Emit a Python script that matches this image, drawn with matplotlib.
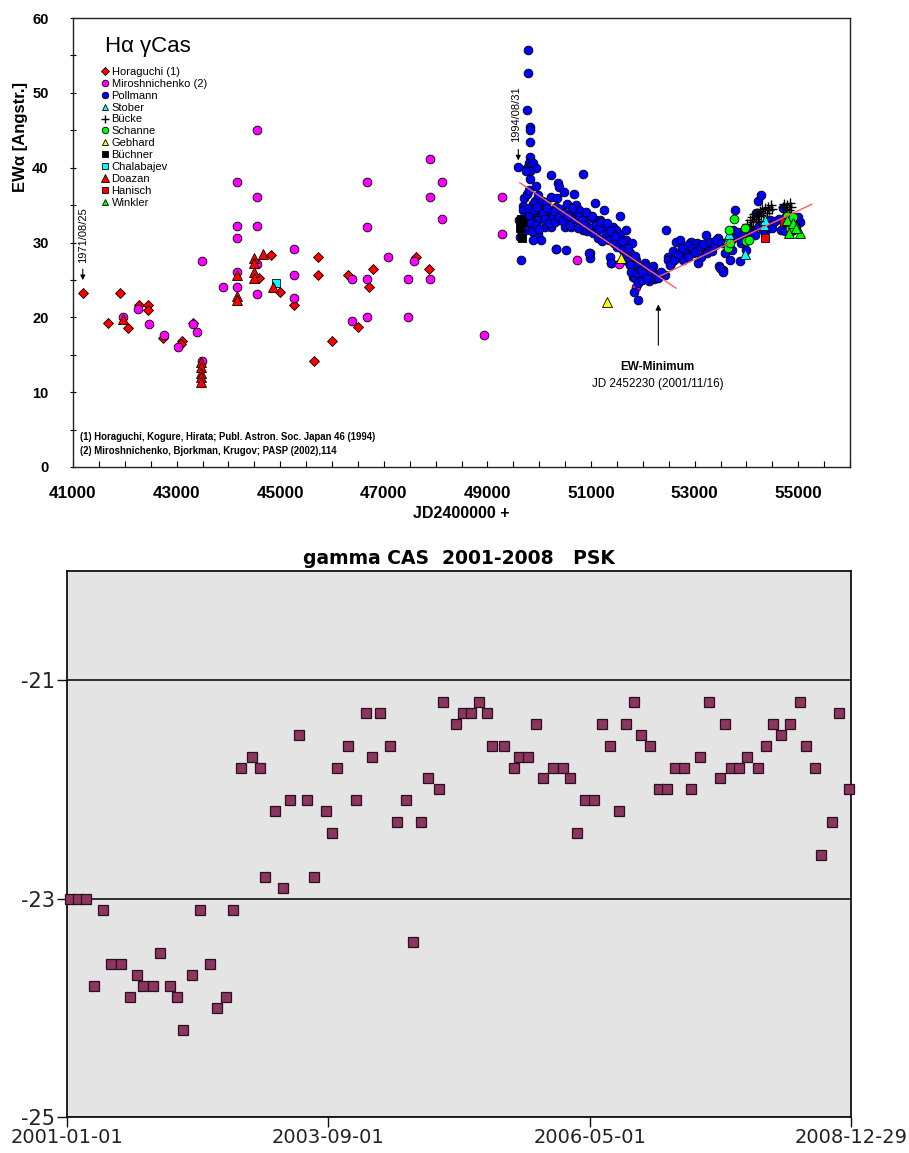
import numpy as np
import matplotlib
matplotlib.use("Agg")
import matplotlib.pyplot as plt
import matplotlib.dates as mdates
from matplotlib.ticker import MultipleLocator, FixedLocator

plt.rcParams['font.family'] = ['Liberation Sans', 'DejaVu Sans']

# ---------------- top chart data (JD-2400000, EW in Angstr.) ----------------
hora_jd = [41189, 41670, 41913, 42055, 42280, 42440, 42440, 42730, 43110, 43080, 43310,
           44595, 44815, 44995, 45265, 45735, 45735, 45655, 46300, 46790, 46705, 46510,
           46000, 47630, 47875]
hora_ew = [23.2, 19.25, 23.2, 18.6, 21.65, 21.65, 21.0, 17.3, 16.85, 16.5, 19.3,
           25.3, 28.3, 23.35, 21.65, 28.1, 25.6, 14.2, 25.7, 26.4, 24.0, 18.7,
           16.8, 28.1, 26.4]

miro_jd = [41970, 42255, 42465, 42760, 43020, 43320, 43385, 43495, 43495, 43905,
           44165, 44165, 44165, 44165, 44165, 44550, 44550, 44550, 44550, 44550,
           45265, 45265, 45265, 46680, 46680, 46680, 46680, 46395, 46395, 47080,
           47460, 47460, 47585, 47885, 47885, 47885, 48125, 48125, 48930, 49285,
           49285, 50330, 50730, 51540, 51860, 52215]
miro_ew = [20.0, 21.1, 19.1, 17.6, 16.0, 19.1, 18.1, 27.5, 14.1, 24.0,
           38.1, 32.2, 30.6, 26.1, 24.0, 45.1, 36.1, 32.2, 27.1, 23.1,
           29.1, 25.6, 22.6, 38.1, 32.1, 25.1, 20.0, 25.1, 19.5, 28.0,
           25.1, 20.0, 27.5, 41.1, 36.1, 25.1, 38.1, 33.1, 17.6, 36.1,
           31.1, 29.1, 27.6, 27.1, 24.1, 25.1]

poll_jd = [49596, 49785, 49785, 49772, 49817, 49817, 49817, 49817, 49804, 49772, 49850,
           49882, 49946, 49817, 49753, 49817, 49946, 49689, 49689, 49882, 49914, 49978,
           49612, 49753, 49817, 49882, 49946, 50010, 50042, 49914, 49978, 49753, 49817,
           49914, 49978, 50042, 49882, 49657, 49624, 49657, 50049, 50139, 50222, 50345,
           50222, 50364, 50383, 50473, 50666, 50216, 50332, 50428, 50107, 50235, 50538,
           50538, 50589, 50653, 50718, 50769, 50332, 50525, 50428, 50493, 50621, 50718,
           50795, 50846, 50846, 50943, 51071, 51071, 50975, 50975, 51168, 51251, 51264,
           51296, 51374, 51393, 51425, 51489, 51566, 51554, 51682, 51682, 51798, 51747,
           51875, 51875, 51811, 51940, 52036, 52068, 52120, 52197, 52197, 52422, 52454,
           52486, 52551, 52647, 52711, 52743, 52840, 52904, 52969, 53065, 53226, 53291,
           53355, 53451, 53470, 53548, 53580, 53644, 53740, 53773, 53869, 53997, 54062,
           54126, 54190, 54223, 54287, 54383, 54448, 54673, 54705, 54769, 54898, 55026,
           51830, 51907, 52133, 52229, 51811, 51850, 51380, 50955,
           52486, 52583, 52808, 52937, 53130, 53194, 53483, 53548, 53676, 53901, 54094,
           54158, 54319, 54737, 54866, 54962,
           50070, 50120, 50160, 50190, 50260, 50290, 50300, 50390, 50410, 50460, 50480,
           50560, 50600, 50630, 50690, 50740, 50760, 50820, 50870, 50900, 50920, 50990,
           51010, 51040, 51100, 51130, 51150, 51200, 51220, 51310, 51340, 51360, 51450,
           51470, 51510, 51600, 51620, 51650, 51700, 51720, 51760, 51780, 51840, 51880,
           51900, 51960, 51990, 52010, 52090, 52150, 52260, 52300, 52350, 52520, 52600,
           52680, 52760, 52780, 52870, 52880, 52950, 53000, 53040, 53100, 53160, 53230,
           53300, 53330, 53400, 53420, 53520, 53600, 53700, 53720, 53800, 53840, 53920,
           53950, 54030, 54250, 54420, 54500, 54560, 54620, 54800, 54830, 54930, 55000,
           49700, 49730, 49780, 49800, 49840, 49860, 49900, 49930, 49960, 49990, 49700,
           49760, 49800]
poll_ew = [40.1, 55.7, 52.6, 47.7, 45.4, 45.0, 43.4, 41.4, 40.6, 39.9, 40.3,
           40.6, 40.0, 39.5, 39.5, 38.5, 37.6, 34.9, 34.3, 35.2, 35.5, 36.4,
           33.0, 33.0, 33.9, 33.9, 33.9, 34.4, 33.5, 33.0, 33.0, 31.7, 32.1,
           31.0, 31.2, 30.4, 30.3, 31.7, 30.8, 27.7, 35.5, 35.4, 36.1, 36.0,
           39.0, 38.0, 37.4, 36.7, 36.5, 33.9, 34.8, 33.9, 32.1, 32.1, 35.2,
           33.0, 32.8, 33.9, 35.0, 34.4, 29.1, 29.0, 33.0, 32.1, 32.1, 33.5,
           32.5, 39.2, 31.7, 33.2, 35.3, 33.0, 28.6, 27.9, 33.0, 34.4, 32.1,
           31.2, 28.1, 27.2, 32.1, 31.7, 33.5, 31.2, 31.7, 30.3, 29.9, 28.6,
           27.7, 26.8, 26.3, 25.4, 27.2, 26.8, 24.8, 26.8, 25.9, 25.7, 31.7,
           28.1, 27.2, 30.1, 30.4, 28.1, 29.0, 29.9, 28.6, 27.2, 31.0, 29.5,
           29.9, 30.6, 26.8, 26.3, 28.6, 29.5, 31.7, 34.4, 27.5, 29.0, 31.0,
           31.7, 33.9, 35.5, 36.4, 31.7, 33.0, 31.7, 34.6, 33.5, 31.7, 32.8,
           23.4, 22.3, 25.4, 25.2, 25.4, 25.2, 27.2, 28.6,
           27.7, 28.8, 29.0, 30.1, 28.1, 29.0, 26.6, 26.1, 27.7, 29.9, 31.5,
           31.0, 31.7, 31.5, 31.5, 32.1,
           34.0, 33.2, 34.6, 32.6, 33.5, 34.2, 32.8, 33.4, 34.5, 32.9, 34.0,
           33.6, 32.4, 34.6, 33.1, 32.0, 33.6, 33.0, 32.3, 34.1, 31.6, 32.0,
           33.6, 31.3, 32.4, 30.6, 31.8, 32.8, 30.2, 32.6, 30.4, 31.6, 30.0,
           30.9, 29.4, 30.2, 29.0, 28.1, 27.5, 29.2, 27.0, 26.0, 28.2, 25.9,
           24.6, 26.3, 25.0, 25.9, 25.3, 26.2, 25.7, 25.2, 26.0, 27.0, 27.6,
           28.5, 29.3, 27.7, 28.0, 29.6, 29.3, 28.7, 30.0, 29.4, 29.8, 28.6,
           30.1, 28.9, 29.6, 30.3, 30.0, 29.9, 30.3, 29.0, 30.8, 31.4, 30.4,
           31.6, 31.8, 32.2, 32.4, 32.0, 32.9, 33.2, 32.4, 33.6, 32.9, 33.4,
           33.4, 32.2, 33.6, 34.6, 32.6, 31.6, 34.4, 32.4, 34.8, 31.8, 36.0,
           36.5, 37.0]

stober_jd = [53640, 53660, 53980, 54340, 54360]
stober_ew = [30.5, 31.2, 28.4, 32.4, 33.0]

bucke_jd = [54020, 54060, 54100, 54120, 54150, 54180, 54200, 54230, 54260, 54290, 54310,
            54330, 54360, 54390, 54410, 54440, 54470, 54500, 54700, 54730, 54760, 54790,
            54820, 54850, 54870, 54080, 54250]
bucke_ew = [32.5, 33.0, 33.4, 32.8, 33.8, 33.2, 34.0, 33.5, 34.2, 33.7, 34.5,
            33.9, 34.6, 34.0, 34.8, 34.3, 35.0, 34.5, 34.8, 35.2, 34.5, 35.0,
            34.3, 35.3, 34.7, 32.2, 32.9]

schanne_jd = [53650, 53670, 53760, 53690, 53980, 54000, 54050, 54780, 54900, 54920, 54840]
schanne_ew = [29.3, 31.7, 33.2, 30.0, 32.0, 30.2, 30.4, 33.5, 33.4, 32.2, 32.0]

gebhard_jd = [51573, 51300]
gebhard_ew = [27.9, 22.1]

buechner_jd = [49620, 49650, 49690, 49660, 49630]
buechner_ew = [32.9, 33.1, 32.8, 30.6, 32.0]

chala_jd = [44915]
chala_ew = [24.6]

doazan_jd = [41965, 43475, 43475, 43475, 43475, 43475, 44165, 44165, 44165,
             44500, 44500, 44500, 44500, 44670, 44865]
doazan_ew = [19.8, 14.0, 13.3, 12.6, 12.0, 11.4, 25.7, 22.8, 22.3,
             27.9, 27.2, 26.0, 25.3, 28.4, 24.0]

hanisch_jd = [54350, 54720]
hanisch_ew = [30.6, 32.7]

winkler_jd = [54780, 54830, 54900, 55040, 54950]
winkler_ew = [33.0, 31.3, 32.6, 31.3, 32.0]

trend1_jd = [49625, 52640]
trend1_ew = [38.0, 23.9]
trend2_jd = [52326, 55260]
trend2_ew = [25.5, 35.1]

jd_ticks = [41000, 43000, 45000, 47000, 49000, 51000, 53000, 55000]

# ---------------- bottom chart data ----------------
psk_days = [11, 40, 70, 100, 133, 164, 200, 236, 262, 284, 320, 346, 382, 408, 433, 465,
            496, 534, 559, 592, 618, 649, 689, 717, 738, 776, 805, 831, 864, 894, 919,
            963, 988, 1004, 1045, 1077, 1114, 1135, 1167, 1204, 1230, 1261, 1287, 1318,
            1344, 1386, 1401, 1447, 1473, 1503, 1533, 1565, 1584, 1626, 1663, 1684, 1715,
            1746, 1773, 1811, 1846, 1873, 1900, 1930, 1961, 1992, 2023, 2055, 2081, 2112,
            2138, 2170, 2203, 2233, 2265, 2296, 2322, 2357, 2389, 2431, 2451, 2472, 2503,
            2531, 2573, 2604, 2629, 2660, 2692, 2728, 2750, 2786, 2807, 2849, 2875, 2913]
psk_ew = [-23.0, -23.0, -23.0, -23.8, -23.1, -23.6, -23.6, -23.9, -23.7, -23.8, -23.8,
          -23.5, -23.8, -23.9, -24.2, -23.7, -23.1, -23.6, -24.0, -23.9, -23.1, -21.8,
          -21.7, -21.8, -22.8, -22.2, -22.9, -22.1, -21.5, -22.1, -22.8, -22.2, -22.4,
          -21.8, -21.6, -22.1, -21.3, -21.7, -21.3, -21.6, -22.3, -22.1, -23.4, -22.3,
          -21.9, -22.0, -21.2, -21.4, -21.3, -21.3, -21.2, -21.3, -21.6, -21.6, -21.8,
          -21.7, -21.7, -21.4, -21.9, -21.8, -21.8, -21.9, -22.4, -22.1, -22.1, -21.4,
          -21.6, -22.2, -21.4, -21.2, -21.5, -21.6, -22.0, -22.0, -21.8, -21.8, -22.0,
          -21.7, -21.2, -21.9, -21.4, -21.8, -21.8, -21.7, -21.8, -21.6, -21.4, -21.5,
          -21.4, -21.2, -21.6, -21.8, -22.6, -22.3, -21.3, -22.0]
date_ticks = ['2001-01-01', '2003-09-01', '2006-05-01', '2008-12-29']

# ---------------- figure ----------------
fig = plt.figure(figsize=(9.09, 11.53), dpi=100)
ax = fig.add_axes([73/909, 1-467/1153, 777/909, 449/1153])

mk = dict(linestyle='none', markeredgecolor='black', markeredgewidth=0.6)
series = [
    ("Horaguchi (1)", hora_jd, hora_ew, 'D', '#ff0000', 5.2),
    ("Miroshnichenko (2)", miro_jd, miro_ew, 'o', '#ff00ff', 6.3),
    ("Pollmann", poll_jd, poll_ew, 'o', '#0000ff', 6.3),
    ("Stober", stober_jd, stober_ew, '^', '#00ffff', 6.5),
    ("Bücke", bucke_jd, bucke_ew, '+', 'black', 7),
    ("Schanne", schanne_jd, schanne_ew, 'o', '#00ff00', 6.3),
    ("Gebhard", gebhard_jd, gebhard_ew, '^', '#ffff00', 6.5),
    ("Büchner", buechner_jd, buechner_ew, 's', 'black', 6.3),
    ("Chalabajev", chala_jd, chala_ew, 's', '#00ffff', 6.3),
    ("Doazan", doazan_jd, doazan_ew, '^', '#ff0000', 6.8),
    ("Hanisch", hanisch_jd, hanisch_ew, 's', '#ff0000', 6.3),
    ("Winkler", winkler_jd, winkler_ew, '^', '#00ff00', 6.5),
]
handles = []
for i, (lab, xs, ys, m, c, ms) in enumerate(series):
    if m == '+':
        h, = ax.plot(xs, ys, linestyle='none', marker='+', color='black', markersize=ms,
                     markeredgewidth=1.0, label=lab, zorder=3 + i * 0.1)
    else:
        h, = ax.plot(xs, ys, marker=m, markerfacecolor=c, markersize=ms, label=lab,
                     zorder=3 + i * 0.1, **mk)
    handles.append(h)

ax.plot(trend1_jd, trend1_ew, color='#ff6060', lw=1.0, zorder=5)
ax.plot(trend2_jd, trend2_ew, color='#ff6060', lw=1.0, zorder=5)

ax.set_xlim(41000, 56000)
ax.set_ylim(0, 60)
ax.xaxis.set_major_locator(FixedLocator(jd_ticks))
ax.xaxis.set_minor_locator(MultipleLocator(500))
ax.yaxis.set_major_locator(MultipleLocator(10))
ax.yaxis.set_minor_locator(MultipleLocator(5))
ax.tick_params(axis='x', which='both', direction='in', length=4, width=0.8)
ax.tick_params(axis='y', which='both', direction='inout', length=5, width=0.8)
ax.tick_params(axis='x', which='major', labelsize=12.3, pad=14)
ax.tick_params(axis='y', which='major', labelsize=10.5, pad=15)
for t in ax.get_xticklabels() + ax.get_yticklabels():
    t.set_fontweight('bold')
for s in ax.spines.values():
    s.set_linewidth(1.0)
    s.set_color('#222222')

ax.set_xlabel("JD2400000 +", fontsize=11.5, fontweight='bold', labelpad=3)
ax.text(-0.067, 0.735, "EWα [Angstr.]", transform=ax.transAxes, rotation=90,
        ha='center', va='center', fontsize=12, fontweight='bold')

ax.text(0.041, 0.936, "Hα γCas", transform=ax.transAxes, fontsize=16,
        ha='left', va='center')

leg = ax.legend(handles=handles, loc='upper left', bbox_to_anchor=(0.0375, 0.891),
                frameon=False, fontsize=8, handlelength=0.6, handletextpad=0.25,
                labelspacing=0.17, markerscale=0.75, borderaxespad=0, borderpad=0)

ax.text(0.009, 0.067, "(1) Horaguchi, Kogure, Hirata; Publ. Astron. Soc. Japan 46 (1994)",
        transform=ax.transAxes, fontsize=6.9, fontweight='bold', va='center')
ax.text(0.009, 0.036, "(2) Miroshnichenko, Bjorkman, Krugov; PASP (2002),114",
        transform=ax.transAxes, fontsize=6.9, fontweight='bold', va='center')

# annotations
ax.annotate('', xy=(41189, 24.6), xytext=(41189, 26.8),
            arrowprops=dict(arrowstyle='-|>', color='black', lw=0.8, mutation_scale=7))
ax.text(41189, 27.3, "1971/08/25", rotation=90, ha='center', va='bottom', fontsize=8)
ax.annotate('', xy=(49596, 40.6), xytext=(49596, 42.8),
            arrowprops=dict(arrowstyle='-|>', color='black', lw=0.8, mutation_scale=7))
ax.text(49560, 43.4, "1994/08/31", rotation=90, ha='center', va='bottom', fontsize=8)
ax.annotate('', xy=(52300, 22.1), xytext=(52300, 15.9),
            arrowprops=dict(arrowstyle='-|>', color='black', lw=0.8, mutation_scale=8))
ax.text(52290, 13.3, "EW-Minimum", ha='center', va='center', fontsize=8.5, fontweight='bold')
ax.text(52290, 11.1, "JD 2452230 (2001/11/16)", ha='center', va='center', fontsize=8.4)

# ---------------- bottom chart ----------------
ax2 = fig.add_axes([67/909, 1-1117/1153, 784/909, 546/1153])
ax2.set_facecolor('#e4e4e4')
t0 = np.datetime64('2001-01-01')
psk_dates = t0 + np.array(psk_days).astype('timedelta64[D]')
ax2.plot(psk_dates, psk_ew, linestyle='none', marker='s', markersize=7.2,
         markerfacecolor='#8c3560', markeredgecolor='#2a0f1c', markeredgewidth=0.9,
         clip_on=False, zorder=3)
tick_dates = np.array(date_ticks, dtype='datetime64[D]')
ax2.set_xlim(tick_dates[0], tick_dates[-1])
ax2.set_ylim(-25, -20)
ax2.set_xticks(tick_dates)
ax2.xaxis.set_major_formatter(mdates.DateFormatter('%Y-%m-%d'))
ax2.set_yticks([-25, -23, -21])
ax2.set_yticklabels(['-25', '-23', '-21'])
ax2.grid(axis='y', color='#111111', lw=1.2, zorder=1)
ax2.set_axisbelow(True)
ax2.tick_params(axis='both', direction='out', length=7, width=1.0, labelsize=14,
                colors='#111111', labelcolor='#222222')
ax2.tick_params(axis='y', labelsize=15)
for t in ax2.get_xticklabels() + ax2.get_yticklabels():
    t.set_fontfamily('DejaVu Sans')
ax2.tick_params(axis='y', pad=2)
ax2.tick_params(axis='x', pad=1)
for s in ax2.spines.values():
    s.set_linewidth(1.3)
    s.set_color('#111111')
ax2.set_title("gamma CAS  2001-2008   PSK", fontsize=13.5, fontweight='bold', pad=5,
              fontfamily='DejaVu Sans')

fig.savefig("out.png", dpi=100)
